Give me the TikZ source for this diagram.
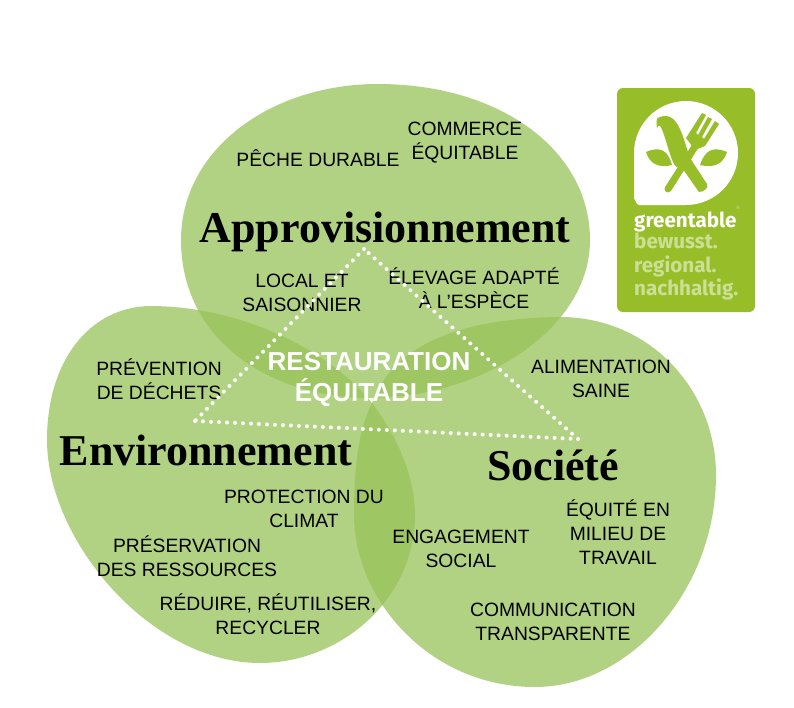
\documentclass[tikz,border=0pt]{standalone}
\usepackage{fontspec}
\setmainfont{Liberation Sans}
\newfontfamily\titlefont{Liberation Serif}
\newfontfamily\logofont{Fira Sans}
\usepackage{xcolor}
\definecolor{BlobGreen}{RGB}{150,193,85}
\definecolor{LogoGreen}{RGB}{151,190,40}
\definecolor{LogoPale}{RGB}{203,224,150}
\begin{document}
\begin{tikzpicture}[
        x=1pt,y=-1pt,
        blob/.style={fill=BlobGreen,fill opacity=0.73,draw=none},
        label/.style={align=center,inner sep=0pt,text=black,font={\fontsize{19.3}{24}\selectfont}},
        heading/.style={inner sep=0pt,text=black,font={\titlefont\bfseries\fontsize{44}{48}\selectfont}},
        centre/.style={align=center,inner sep=0pt,text=white,font={\bfseries\fontsize{26}{31}\selectfont}},
        logoline/.style={inner sep=0pt,anchor=base west,text=LogoPale,font={\logofont\bfseries\fontsize{20.6}{24}\selectfont}},
        dotted line/.style={draw=white,line width=4pt,line cap=round,dash pattern=on 0pt off 8pt},
        cutlery/.style={fill=LogoGreen,draw=none}
        ]
    \useasboundingbox (0,0) rectangle (794,707);

    % the three circles
    \path[blob] (181,240) .. controls (181,150) and (270,84) .. (378,84) .. controls (500,84) and (590,150) .. (590,240)
        .. controls (590,330) and (480,398) .. (370,398) .. controls (270,398) and (181,340) .. (181,240) -- cycle;
    \path[blob] (47,440) .. controls (47,360) and (90,307) .. (150,306) .. controls (240,306) and (330,350) .. (372,403)
        .. controls (400,440) and (415,480) .. (415,515) .. controls (415,600) and (340,663) .. (260,663)
        .. controls (150,663) and (47,540) .. (47,440) -- cycle;
    \path[blob] (372,403) .. controls (395,340) and (470,318) .. (560,317) .. controls (650,317) and (716,390) .. (716,475)
        .. controls (716,590) and (630,687) .. (535,687) .. controls (430,687) and (354,600) .. (354,515)
        .. controls (354,470) and (358,430) .. (372,403) -- cycle;

    % labels
    \node[label] (commerce) at (465,143) {COMMERCE\\ÉQUITABLE};
    \node[label] (peche) at (318,158) {PÊCHE DURABLE};
    \node[heading] (appro) at (385,232) {Approvisionnement};
    \node[label] (local) at (302,293) {LOCAL ET\\SAISONNIER};
    \node[label] (elevage) at (474,288) {ÉLEVAGE ADAPTÉ\\À L{\char39}ESPÈCE};
    \node[label] (prevention) at (159,379) {PRÉVENTION\\DE DÉCHETS};
    \node[label] (alimentation) at (601,379) {ALIMENTATION\\SAINE};
    \node[heading] (environ) at (206,450) {Environnement};
    \node[heading] (societe) at (553,465) {Société};
    \node[label] (protection) at (304,509) {PROTECTION DU\\CLIMAT};
    \node[label] (equite) at (618,532) {ÉQUITÉ EN\\MILIEU DE\\TRAVAIL};
    \node[label] (engagement) at (461,549) {ENGAGEMENT\\SOCIAL};
    \node[label] (preservation) at (187,556) {PRÉSERVATION\\DES RESSOURCES};
    \node[label] (reduire) at (268,614) {RÉDUIRE, RÉUTILISER,\\RECYCLER};
    \node[label] (communication) at (553,622) {COMMUNICATION\\TRANSPARENTE};

    % dotted triangle
    \coordinate (apex) at (364,249);
    \coordinate (west) at (195,421);
    \coordinate (east) at (578,439);
    \draw[dotted line] (apex) -- (west);
    \draw[dotted line] (west) -- (east);
    \draw[dotted line] (east) -- (apex);
    \node[centre] (resto) at (369,379) {RESTAURATION\\ÉQUITABLE};

    % logo
    \node[fill=LogoGreen,rounded corners=6pt,minimum width=138pt,minimum height=224pt,inner sep=0pt] (logo) at (686,200) {};
    \fill[white] (634,153) arc[start angle=180,end angle=450,radius=52] -- (639,205)
        to[out=180,in=90] (634,199) -- cycle;
    \fill[cutlery] (660,117) to[out=20,in=110] (690,158) -- (707,184)
        to[out=-60,in=0] (699,192) -- (680,165) to[out=-120,in=70] (657,128) to[out=100,in=180] cycle;
    \draw[LogoGreen,line width=7pt,line cap=round] (668,189) -- (696,145);
    \fill[cutlery] (686,138) -- (702,113) -- (706,115) -- (696,133) -- (698,135) -- (708,117) -- (712,119)
        -- (702,137) -- (704,139) -- (715,121) -- (719,124) -- (705,146) -- (695,150) -- cycle;
    \fill[cutlery] (646,152) .. controls (660,146) and (668,150) .. (672,165) .. controls (660,168) and (650,165) .. (646,152) -- cycle;
    \fill[cutlery] (727,152) .. controls (713,146) and (705,150) .. (700,165) .. controls (713,168) and (723,165) .. (727,152) -- cycle;
    \node[logoline,text=white] (brand) at (634,227) {greentable};
    \node[inner sep=0pt,text=LogoPale,font={\fontsize{5}{6}\selectfont}] (mark) at (738,208) {®};
    \node[logoline] (line1) at (634,248) {bewusst.};
    \node[logoline] (line2) at (634,272) {regional.};
    \node[logoline] (line3) at (634,295) {nachhaltig.};
\end{tikzpicture}
\end{document}
